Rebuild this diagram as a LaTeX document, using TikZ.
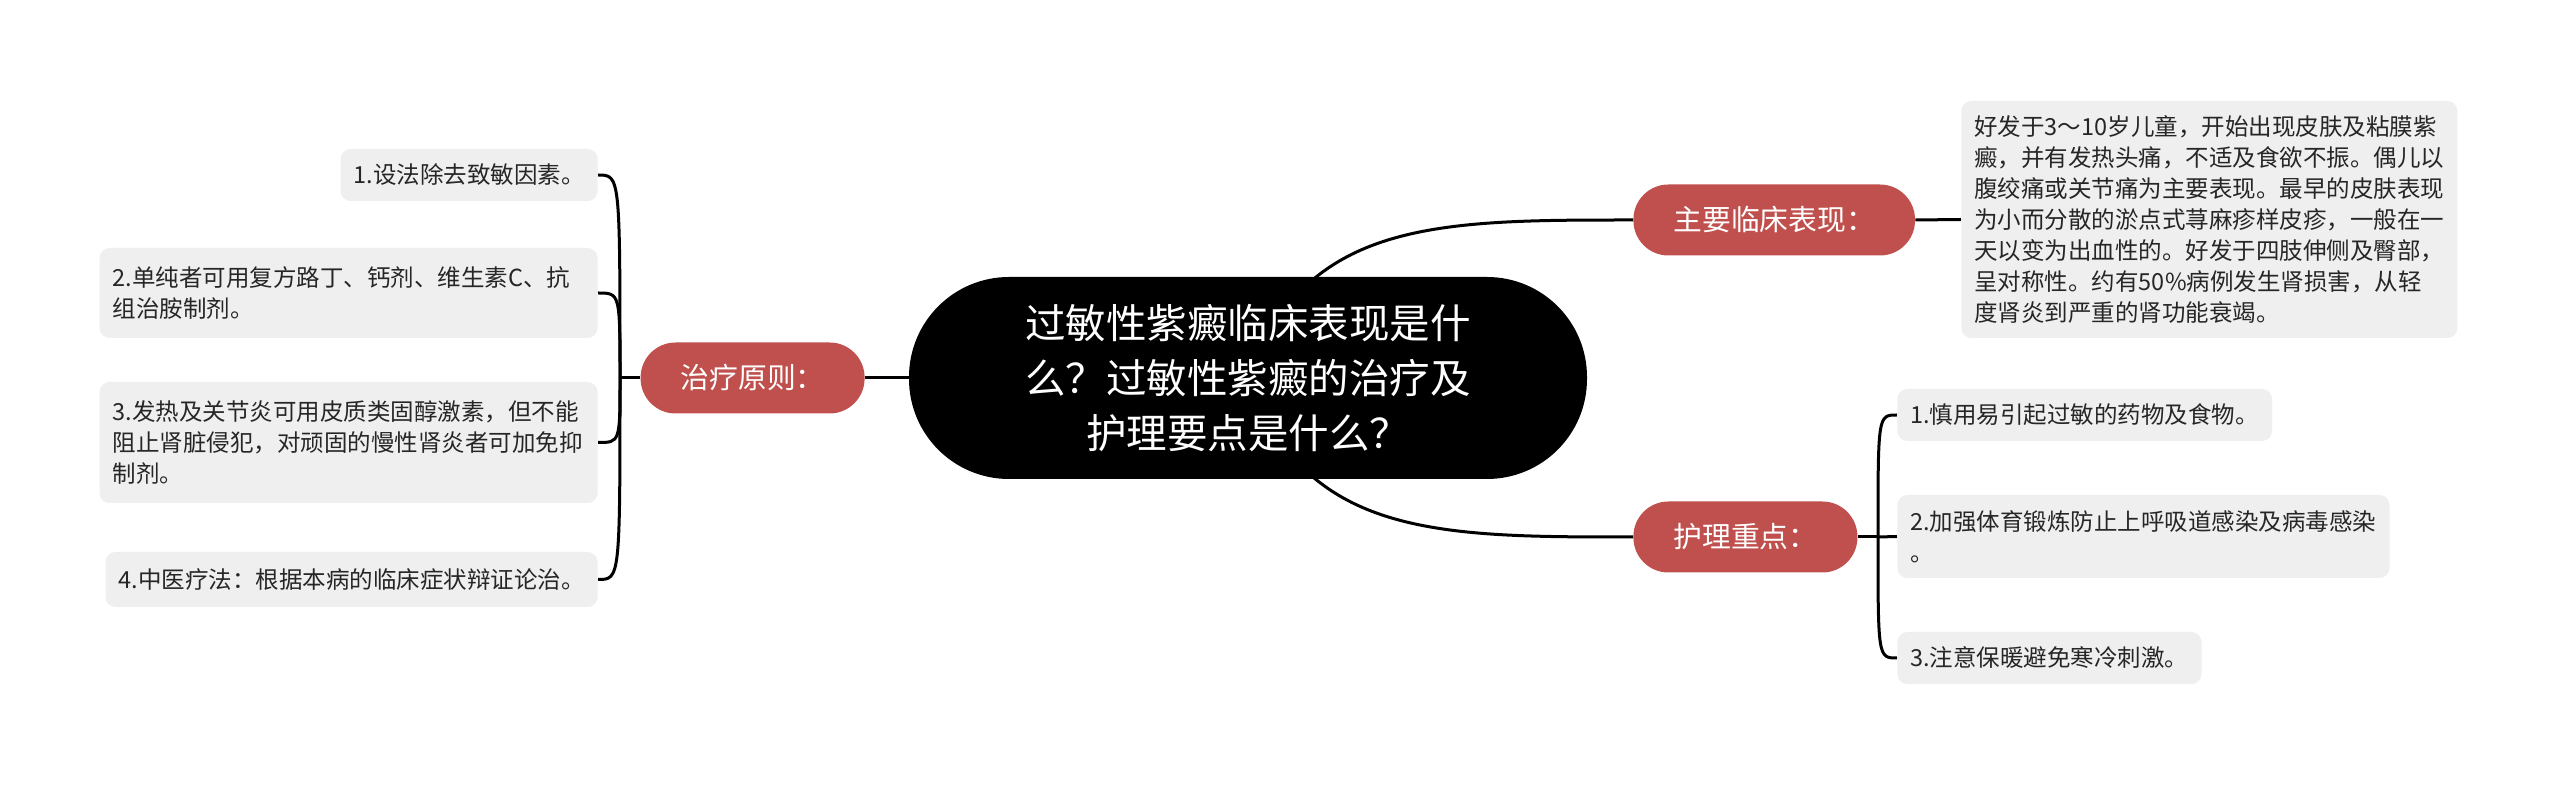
\documentclass[tikz,border=0pt]{standalone}
\usepackage{fontspec}
\setmainfont{Noto Sans CJK SC}
\usetikzlibrary{backgrounds,calc}
\definecolor{branchred}{HTML}{C0504D}
\definecolor{leafgray}{HTML}{EFEFEF}
\definecolor{leaftext}{HTML}{262626}
\begin{document}
\begin{tikzpicture}[x=0.5pt,y=-0.5pt,
  mainnode/.style={fill=black, text=white, rounded corners=50pt, minimum width=339pt, minimum height=101pt, align=center, inner sep=0pt, font=\fontsize{20.25}{27.5}\selectfont},
  branchnode/.style={fill=branchred, text=white, rounded corners=17.5pt, minimum height=35.5pt, inner xsep=20pt, inner ysep=0pt, font=\fontsize{14.4}{17}\selectfont},
  leafnode/.style={fill=leafgray, text=leaftext, rounded corners=5pt, inner xsep=6.5pt, inner ysep=4pt, align=left, font=\fontsize{11.75}{15.5}\selectfont},
  link/.style={draw=black, line width=1.5pt}]
\useasboundingbox (0,0) rectangle (2560,785);

\node[mainnode] (c) at (1248,378) {过敏性紫癜临床表现是什\\么？过敏性紫癜的治疗及\\护理要点是什么？};

\node[branchnode, anchor=west] (zy) at (1633,220) {主要临床表现：};
\node[branchnode, anchor=west] (hl) at (1633,537) {护理重点：};
\node[branchnode, anchor=east] (zl) at (865,378) {治疗原则：};

\node[leafnode, anchor=west, minimum height=118.5pt] (rb) at (1961,219.5) {好发于3～10岁儿童，开始出现皮肤及粘膜紫\\癜，并有发热头痛，不适及食欲不振。偶儿以\\腹绞痛或关节痛为主要表现。最早的皮肤表现\\为小而分散的淤点式荨麻疹样皮疹，一般在一\\天以变为出血性的。好发于四肢伸侧及臀部，\\呈对称性。约有50\%病例发生肾损害，从轻\\度肾炎到严重的肾功能衰竭。};

\node[leafnode, anchor=west, minimum height=26pt] (r1) at (1897,415) {1.慎用易引起过敏的药物及食物。};
\node[leafnode, anchor=west, minimum height=41.5pt] (r2) at (1897,536.5) {2.加强体育锻炼防止上呼吸道感染及病毒感染\\。};
\node[leafnode, anchor=west, minimum height=26pt] (r3) at (1897,658) {3.注意保暖避免寒冷刺激。};

\node[leafnode, anchor=east, minimum height=26pt] (l1) at (598,175) {1.设法除去致敏因素。};
\node[leafnode, anchor=east, minimum height=45pt, text width=236pt] (l2) at (598,293) {2.单纯者可用复方路丁、钙剂、维生素C、抗\\组治胺制剂。};
\node[leafnode, anchor=east, minimum height=60.5pt, text width=236pt] (l3) at (598,442.5) {3.发热及关节炎可用皮质类固醇激素，但不能\\阻止肾脏侵犯，对顽固的慢性肾炎者可加免抑\\制剂。};
\node[leafnode, anchor=east, minimum height=27.5pt] (l4) at (598,579.5) {4.中医疗法：根据本病的临床症状辩证论治。};

\coordinate (jr) at (1878,537);
\coordinate (jl) at (620,378);

\begin{scope}[on background layer]
  \fill[white] (0,0) rectangle (2560,785);
  \draw[link] (c.center) .. controls (1306,220) and (1437,220) .. (zy.west);
  \draw[link] (c.center) .. controls (1306,537) and (1437,537) .. (hl.west);
  \draw[link] (c.center) -- (zl.east);
  \draw[link] (zy.east) -- (rb.west);
  \draw[link] (hl.east) -- (jr);
  \draw[link] (jr) .. controls (jr |- r1.west) .. (r1.west);
  \draw[link] (jr) -- (r2.west);
  \draw[link] (jr) .. controls (jr |- r3.west) .. (r3.west);
  \draw[link] (zl.west) -- (jl);
  \draw[link] (jl) .. controls (jl |- l1.east) .. (l1.east);
  \draw[link] (jl) .. controls (jl |- l2.east) .. (l2.east);
  \draw[link] (jl) .. controls (jl |- l3.east) .. (l3.east);
  \draw[link] (jl) .. controls (jl |- l4.east) .. (l4.east);
\end{scope}
\end{tikzpicture}
\end{document}
